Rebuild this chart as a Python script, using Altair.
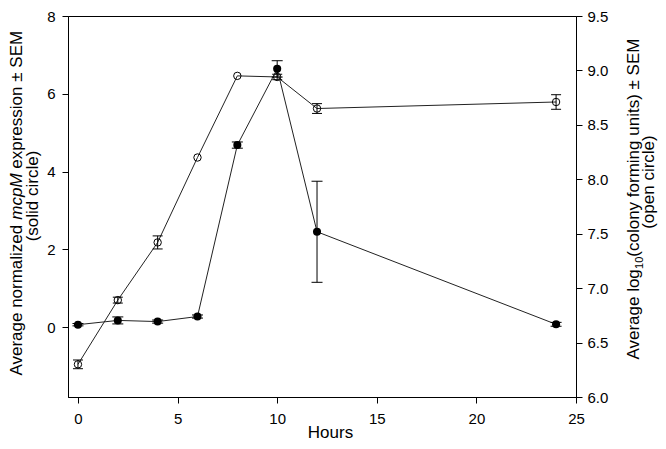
import altair as alt
import pandas as pd

# ---- data ----
hours = [0, 2, 4, 6, 8, 10, 12, 24]
mcpm = [0.06, 0.17, 0.14, 0.27, 4.68, 6.64, 2.45, 0.07]          # solid circles, left axis
mcpm_sem = [0.03, 0.09, 0.04, 0.04, 0.08, 0.21, 1.30, 0.05]
cfu = [6.30, 6.89, 7.42, 8.20, 8.95, 8.94, 8.65, 8.71]            # open circles, right axis
cfu_sem = [0.04, 0.027, 0.06, 0.0, 0.0, 0.025, 0.045, 0.067]

x_ticks = [0, 5, 10, 15, 20, 25]
left_ticks = [0, 2, 4, 6, 8]
right_ticks = [6.0, 6.5, 7.0, 7.5, 8.0, 8.5, 9.0, 9.5]

df = pd.DataFrame({
    "hours": hours,
    "mcpm": mcpm, "mcpm_sem": mcpm_sem,
    "cfu": cfu, "cfu_sem": cfu_sem,
})
df["m_lo"] = df["mcpm"] - df["mcpm_sem"]
df["m_hi"] = df["mcpm"] + df["mcpm_sem"]
df["c_lo"] = df["cfu"] - df["cfu_sem"]
df["c_hi"] = df["cfu"] + df["cfu_sem"]

FONT = "Liberation Sans"

x_axis = alt.Axis(values=x_ticks, title="Hours", labelPadding=8, labelFlush=False,
                  titleX=262, titleY=40, titleBaseline="alphabetic", titleAlign="center",
                  titleFontSize=17)
x_scale = alt.Scale(domain=[-0.5, 25], nice=False, zero=False)


def X():
    return alt.X("hours:Q", scale=x_scale, axis=x_axis)


yL_scale = alt.Scale(domain=[-1.8, 8], nice=False, zero=False)
yL_axis = alt.Axis(orient="left", values=left_ticks, title=None, labelPadding=7)
yR_scale = alt.Scale(domain=[6.0, 9.5], nice=False, zero=False)
yR_axis = alt.Axis(orient="right", values=right_ticks, format=".1f", title=None, labelPadding=5)


def YL(f):
    return alt.Y(f + ":Q", scale=yL_scale, axis=yL_axis)


def YR(f):
    return alt.Y(f + ":Q", scale=yR_scale, axis=yR_axis)


base = alt.Chart(df)

# open circles (right axis)
r_line = base.mark_line(color="#222222", strokeWidth=1).encode(x=X(), y=YR("cfu"))
r_pts = base.mark_point(shape="circle", size=55, filled=False, color="black",
                        strokeWidth=1, opacity=1).encode(x=X(), y=YR("cfu"))
r_err_base = base.transform_filter("datum.cfu_sem > 0")
r_err = r_err_base.mark_rule(color="black", strokeWidth=1).encode(
    x=X(), y=YR("c_lo"), y2="c_hi:Q")
r_cap_lo = r_err_base.mark_tick(orient="horizontal", size=10, thickness=1,
                                color="black", opacity=1).encode(x=X(), y=YR("c_lo"))
r_cap_hi = r_err_base.mark_tick(orient="horizontal", size=10, thickness=1,
                                color="black", opacity=1).encode(x=X(), y=YR("c_hi"))
right = alt.layer(r_line, r_pts, r_err, r_cap_lo, r_cap_hi)

# solid circles (left axis)
l_line = base.mark_line(color="#222222", strokeWidth=1).encode(x=X(), y=YL("mcpm"))
l_err = base.mark_rule(color="black", strokeWidth=1).encode(
    x=X(), y=YL("m_lo"), y2="m_hi:Q")
l_cap_lo = base.mark_tick(orient="horizontal", size=11, thickness=1,
                          color="black", opacity=1).encode(x=X(), y=YL("m_lo"))
l_cap_hi = base.mark_tick(orient="horizontal", size=11, thickness=1,
                          color="black", opacity=1).encode(x=X(), y=YL("m_hi"))
l_pts = base.mark_point(shape="circle", size=65, filled=True, color="black",
                        opacity=1).encode(x=X(), y=YL("mcpm"))
left = alt.layer(l_line, l_err, l_cap_lo, l_cap_hi, l_pts)


def vtext(txt, x, y, size=17, style="normal"):
    return alt.Chart(pd.DataFrame({"t": [txt]})).mark_text(
        angle=270, align="left", baseline="alphabetic", font=FONT,
        fontSize=size, fontStyle=style, color="black"
    ).encode(x=alt.value(x), y=alt.value(y), text="t:N")


titles = [
    # left title, line 1 (with italic gene name) and line 2
    vtext("Average normalized", -46, 359.6),
    vtext("mcpM", -46, 203.7, style="italic"),
    vtext("expression \u00b1 SEM", -46, 152.7),
    vtext("(solid circle)", -30, 225.3),
    # right title, line 1 (with subscript) and line 2
    vtext("Average log", 571, 343.6),
    vtext("10", 575, 252.9, size=11),
    vtext("(colony forming units) \u00b1 SEM", 571, 240.7),
    vtext("(open circle)", 586, 212.8),
]

chart = alt.layer(right, left, *titles).resolve_scale(
    y="independent"
).properties(
    width=508, height=381,
    padding={"left": 60, "top": 8, "right": 82, "bottom": 44},
    autosize=alt.AutoSizeParams(type="none"),
).configure_view(
    stroke="black", strokeWidth=1
).configure_axis(
    grid=False, domainColor="black", domainWidth=1, tickColor="black", tickWidth=1,
    tickSize=6, labelColor="black", labelFont=FONT, labelFontSize=15,
    titleFont=FONT, titleColor="black", titleFontWeight="normal", labelOverlap=False,
)

chart.save("out.html", embed_options={"renderer": "svg", "actions": False})
